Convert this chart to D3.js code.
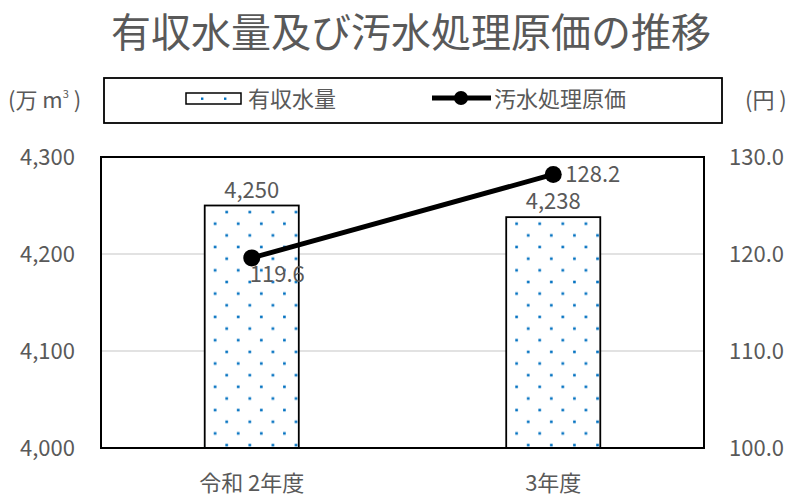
<!DOCTYPE html>
<html>
<head>
<meta charset="utf-8">
<script src="https://cdn.jsdelivr.net/npm/d3@7"></script>
<style>
  body { margin: 0; background: #fff; }
  text { font-family: "Noto Sans CJK JP", "Noto Sans", sans-serif; fill: #595959; }
</style>
</head>
<body>
<script>
// Chart data
var categories = ["令和 2年度", "3年度"];
var volume = [4250, 4238];          // 有収水量 (万m³)
var cost = [119.6, 128.2];          // 汚水処理原価 (円)
var leftTicks = [4000, 4100, 4200, 4300];
var rightTicks = [100, 110, 120, 130];

var svgWidth = 800;
var svgHeight = 496;
var plot = { left: 101, right: 704, top: 157, bottom: 448 };

var svg = d3.select("body")
  .append("svg")
  .attr("width", svgWidth)
  .attr("height", svgHeight);

var defs = svg.append("defs");

// Scales
var x = d3.scaleBand()
  .domain(categories)
  .range([plot.left, plot.right])
  .paddingInner(0.688)
  .paddingOuter(0.344);

var yLeft = d3.scaleLinear().domain([4000, 4300]).range([plot.bottom, plot.top]);
var yRight = d3.scaleLinear().domain([100, 130]).range([plot.bottom, plot.top]);

// Title
svg.append("text")
  .attr("x", 411)
  .attr("y", 47)
  .attr("text-anchor", "middle")
  .style("font-size", "40px")
  .text("有収水量及び汚水処理原価の推移");

// Gridlines
svg.append("g")
  .selectAll("line")
  .data([4100, 4200])
  .enter()
  .append("line")
  .attr("x1", plot.left)
  .attr("x2", plot.right)
  .attr("y1", d => yLeft(d))
  .attr("y2", d => yLeft(d))
  .attr("stroke", "#d9d9d9")
  .attr("stroke-width", 1.5);

// Dotted pattern, one per bar so the dots start at each bar's corner
function makePattern(id, bx) {
  var p = defs.append("pattern")
    .attr("id", id)
    .attr("patternUnits", "userSpaceOnUse")
    .attr("width", 23.1)
    .attr("height", 23.3)
    .attr("patternTransform", `translate(${bx + 9}, ${plot.bottom})`);
  p.append("rect").attr("width", 23.1).attr("height", 23.3).attr("fill", "#fff");
  p.append("rect").attr("x", 0.1).attr("y", 7.4).attr("width", 2.6).attr("height", 2.6).attr("fill", "#0070c0");
  p.append("rect").attr("x", 11.7).attr("y", 19.1).attr("width", 2.6).attr("height", 2.6).attr("fill", "#0070c0");
}

categories.forEach(function (c, i) {
  makePattern("dots" + i, x(c));
});

// Bars
svg.append("g")
  .selectAll("rect")
  .data(volume)
  .enter()
  .append("rect")
  .attr("x", (d, i) => x(categories[i]))
  .attr("y", d => yLeft(d))
  .attr("width", x.bandwidth())
  .attr("height", d => plot.bottom - yLeft(d))
  .attr("fill", (d, i) => `url(#dots${i})`)
  .attr("stroke", "#000")
  .attr("stroke-width", 1.8);

// Plot frame
svg.append("rect")
  .attr("x", plot.left)
  .attr("y", plot.top)
  .attr("width", plot.right - plot.left)
  .attr("height", plot.bottom - plot.top)
  .attr("fill", "none")
  .attr("stroke", "#000")
  .attr("stroke-width", 2);

// Bar value labels
svg.append("g")
  .selectAll("text")
  .data(volume)
  .enter()
  .append("text")
  .attr("x", (d, i) => x(categories[i]) + x.bandwidth() / 2)
  .attr("y", d => yLeft(d) - 8)
  .attr("text-anchor", "middle")
  .style("font-size", "22px")
  .text(d => d3.format(",")(d));

// Cost line
var line = d3.line()
  .x((d, i) => x(categories[i]) + x.bandwidth() / 2)
  .y(d => yRight(d));

svg.append("path")
  .datum(cost)
  .attr("d", line)
  .attr("fill", "none")
  .attr("stroke", "#000")
  .attr("stroke-width", 5);

svg.append("g")
  .selectAll("circle")
  .data(cost)
  .enter()
  .append("circle")
  .attr("cx", (d, i) => x(categories[i]) + x.bandwidth() / 2)
  .attr("cy", d => yRight(d))
  .attr("r", 8.5)
  .attr("fill", "#000");

// Cost labels (first below-right, second right)
var costLabelOffset = [[-2, 24], [12, 8]];
svg.append("g")
  .selectAll("text")
  .data(cost)
  .enter()
  .append("text")
  .attr("x", (d, i) => x(categories[i]) + x.bandwidth() / 2 + costLabelOffset[i][0])
  .attr("y", (d, i) => yRight(d) + costLabelOffset[i][1])
  .style("font-size", "22px")
  .text(d => d3.format(".1f")(d));

// Left axis labels
svg.append("g")
  .selectAll("text")
  .data(leftTicks)
  .enter()
  .append("text")
  .attr("x", 75)
  .attr("y", d => yLeft(d) + 8)
  .attr("text-anchor", "end")
  .style("font-size", "22px")
  .text(d => d3.format(",")(d));

// Right axis labels
svg.append("g")
  .selectAll("text")
  .data(rightTicks)
  .enter()
  .append("text")
  .attr("x", 729)
  .attr("y", d => yRight(d) + 8)
  .attr("text-anchor", "start")
  .style("font-size", "22px")
  .text(d => d3.format(".1f")(d));

// Category labels
svg.append("g")
  .selectAll("text")
  .data(categories)
  .enter()
  .append("text")
  .attr("x", d => x(d) + x.bandwidth() / 2)
  .attr("y", 491)
  .attr("text-anchor", "middle")
  .style("font-size", "22px")
  .text(d => d);

// Axis unit labels
var unitLeft = svg.append("text")
  .attr("x", 8)
  .attr("y", 108)
  .style("font-size", "22px");
unitLeft.append("tspan").text("(万 m");
unitLeft.append("tspan").attr("dy", -10).style("font-size", "11px").text("3");
unitLeft.append("tspan").attr("dy", 10).text(" )");

svg.append("text")
  .attr("x", 745)
  .attr("y", 108)
  .style("font-size", "22px")
  .text("(円 )");

// Legend
var legend = svg.append("g");
legend.append("rect")
  .attr("x", 104)
  .attr("y", 78)
  .attr("width", 618)
  .attr("height", 45)
  .attr("fill", "#fff")
  .attr("stroke", "#000")
  .attr("stroke-width", 1.8);

defs.append("pattern")
  .attr("id", "legendDots")
  .attr("patternUnits", "userSpaceOnUse")
  .attr("width", 23)
  .attr("height", 12)
  .attr("patternTransform", "translate(186, 93)")
  .call(p => {
    p.append("rect").attr("width", 23).attr("height", 12).attr("fill", "#fff");
    p.append("rect").attr("x", 15).attr("y", 4.5).attr("width", 2.4).attr("height", 2.4).attr("fill", "#0070c0");
  });

legend.append("rect")
  .attr("x", 186)
  .attr("y", 93)
  .attr("width", 55)
  .attr("height", 11)
  .attr("fill", "url(#legendDots)")
  .attr("stroke", "#000")
  .attr("stroke-width", 1.5);

legend.append("text")
  .attr("x", 248)
  .attr("y", 107)
  .style("font-size", "22px")
  .text("有収水量");

legend.append("line")
  .attr("x1", 432)
  .attr("x2", 491)
  .attr("y1", 98)
  .attr("y2", 98)
  .attr("stroke", "#000")
  .attr("stroke-width", 5);

legend.append("circle")
  .attr("cx", 461)
  .attr("cy", 98)
  .attr("r", 7)
  .attr("fill", "#000");

legend.append("text")
  .attr("x", 494)
  .attr("y", 107)
  .style("font-size", "22px")
  .text("汚水処理原価");
</script>
</body>
</html>
